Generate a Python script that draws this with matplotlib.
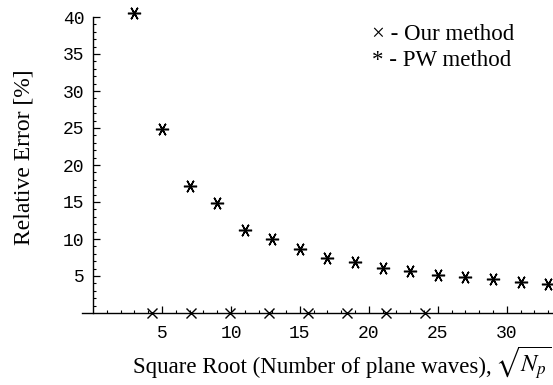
import matplotlib
matplotlib.use("Agg")
import matplotlib.pyplot as plt
import numpy as np

plt.rcParams['mathtext.fontset'] = 'stix'

# Data
pw_x = [3, 5, 7, 9, 11, 13, 15, 17, 19, 21, 23, 25, 27, 29, 31, 33]
pw_y = [40.6, 24.9, 17.2, 14.8, 11.2, 10.0, 8.65, 7.5, 6.9, 6.1, 5.7, 5.2, 4.8, 4.55, 4.15, 3.96]
our_x = [4.24, 7.07, 9.90, 12.73, 15.56, 18.38, 21.21, 24.04]
our_y = [0, 0, 0, 0, 0, 0, 0, 0]
x_ticks = [5, 10, 15, 20, 25, 30]
y_ticks = [5, 10, 15, 20, 25, 30, 35, 40]

W, H = 553, 385
fig = plt.figure(figsize=(W / 100, H / 100), dpi=100)
ax = fig.add_axes([82 / W, 1 - 313 / H, 1 - 82 / W, (313 - 17) / H])

ax.plot(pw_x, pw_y, linestyle='none', marker=(6, 2, 90), markersize=9.5,
        markeredgewidth=1.1, color='black', clip_on=False)
ax.plot(our_x, our_y, linestyle='none', marker='x', markersize=7,
        markeredgewidth=1.0, color='black', clip_on=False, zorder=5)

ax.set_xlim(-0.8, 33.35)
ax.set_ylim(0, 40)

for s in ['top', 'right']:
    ax.spines[s].set_visible(False)
ax.spines['left'].set_position(('data', 0))
ax.spines['bottom'].set_position(('data', 0))
for s in ['left', 'bottom']:
    ax.spines[s].set_linewidth(1.0)

ax.set_xticks(x_ticks)
ax.set_yticks(y_ticks)
ax.set_xticks(np.arange(1, 34), minor=True)
ax.set_yticks(np.arange(1, 40), minor=True)
ax.tick_params(axis='both', which='major', direction='in', length=5, width=0.9)
ax.tick_params(axis='both', which='minor', direction='in', length=2.5, width=0.8)
ax.tick_params(axis='x', which='major', pad=9)
ax.tick_params(axis='y', which='major', pad=6)
for lab in ax.get_xticklabels() + ax.get_yticklabels():
    lab.set_fontfamily('Liberation Mono')
    lab.set_fontsize(13)

fig.text(24 / W, 1 - 157 / H, 'Relative Error [%]', rotation=90,
         ha='center', va='center', family='Liberation Serif', fontsize=17)
fig.text(133 / W, 1 - 373 / H,
         'Square Root (Number of plane waves),',
         ha='left', va='baseline', family='Liberation Serif', fontsize=16.5)
fig.text(551 / W, 1 - 373 / H, r'$\sqrt{N_p}$',
         ha='right', va='baseline', fontsize=17.5)

fig.text(372 / W, 1 - 40 / H, '× - Our method', ha='left', va='baseline',
         family='Liberation Serif', fontsize=16.5)
fig.text(372 / W, 1 - 66 / H, '* - PW method', ha='left', va='baseline',
         family='Liberation Serif', fontsize=16.5)

fig.savefig('out.png', dpi=100)
